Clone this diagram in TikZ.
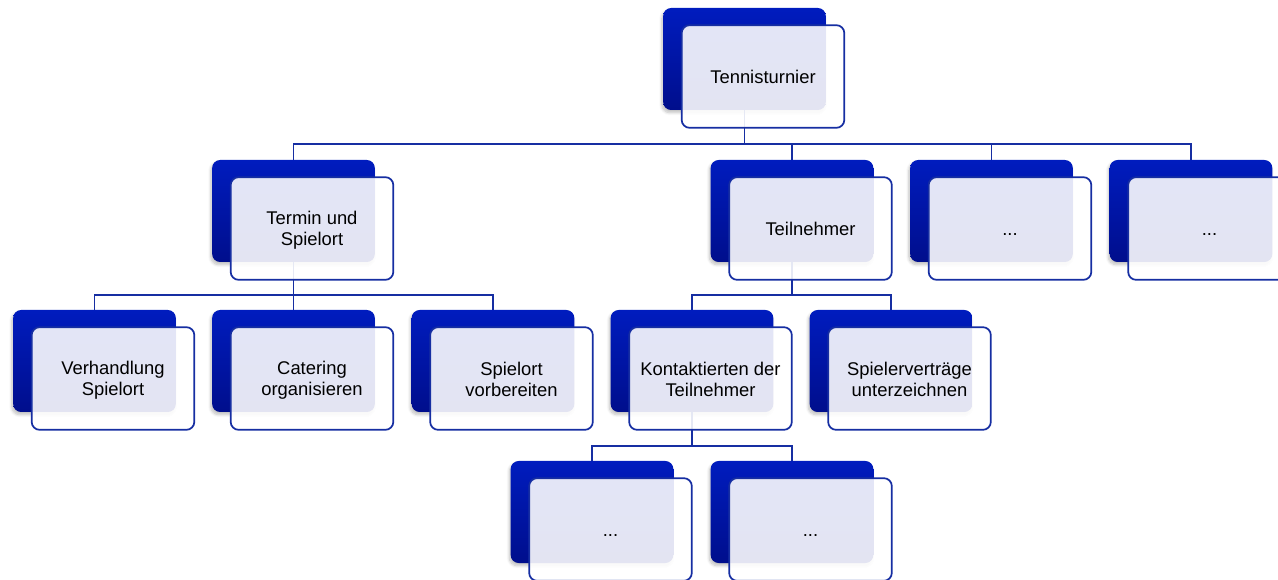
\documentclass[tikz,border=0pt]{standalone}
\usepackage{fontspec}
\setmainfont{Liberation Sans}
\usetikzlibrary{shadows.blur}
\definecolor{boxtop}{RGB}{0,28,190}
\definecolor{boxbot}{RGB}{0,14,140}
\definecolor{linkblue}{RGB}{22,46,162}
\newcommand{\moredots}{...}
\newcommand{\boxstrut}{\rule[-2.2pt]{0pt}{15.2pt}}

\tikzset{
  backbox/.style={rectangle, rounded corners=6pt, minimum width=122pt, minimum height=76.5pt,
    top color=boxtop, bottom color=boxbot,
    blur shadow={shadow xshift=-1pt, shadow yshift=-2pt, shadow blur steps=6, shadow opacity=25}},
  frontbox/.style={rectangle, rounded corners=6pt, minimum width=122pt, minimum height=77pt,
    draw=linkblue, line width=1.3pt, fill=white, fill opacity=0.89, text opacity=1,
    align=center, font=\fontsize{13.8}{15.9}\selectfont},
  link/.style={draw=linkblue, line width=1.3pt}
}

\begin{document}
\begin{tikzpicture}[x=0.75pt, y=-0.75pt]
    \useasboundingbox (0,0) rectangle (1278,580);
    % back boxes
    \foreach \n/\x/\y in {top/744.5/59, term/293.5/211, teil/792/211, d1/991.5/211, d2/1191/211,
        verh/94.5/361, cat/293.5/361, spv/493/361, kont/692/361, spiel/891/361,
        d3/592/512, d4/792/512}{
      \node[backbox] (b-\n) at (\x,\y) {};
    }
    % connectors
    \foreach \c in {term,teil,d1,d2}{
      \draw[link] (b-top.south) -- ++(0,34) -| (b-\c.north);
    }
    \foreach \c in {verh,cat,spv}{
      \draw[link] (b-term.south) -- ++(0,33) -| (b-\c.north);
    }
    \foreach \c in {kont,spiel}{
      \draw[link] (b-teil.south) -- ++(0,33) -| (b-\c.north);
    }
    \foreach \c in {d3,d4}{
      \draw[link] (b-kont.south) -- ++(0,34) -| (b-\c.north);
    }
    % front boxes
    \foreach \n/\t in {top/Tennisturnier, term/{Termin und\\Spielort}, teil/Teilnehmer, d1/\moredots, d2/\moredots,
        verh/{Verhandlung\\Spielort}, cat/{Catering\\organisieren}, spv/{Spielort\\vorbereiten},
        kont/{Kontaktierten der\\Teilnehmer}, spiel/{Spielerverträge\\unterzeichnen},
        d3/\moredots, d4/\moredots}{
      \node[frontbox] (f-\n) at ([shift={(18.5,17.5)}]b-\n.center) {\boxstrut\t\boxstrut};
    }
\end{tikzpicture}
\end{document}
